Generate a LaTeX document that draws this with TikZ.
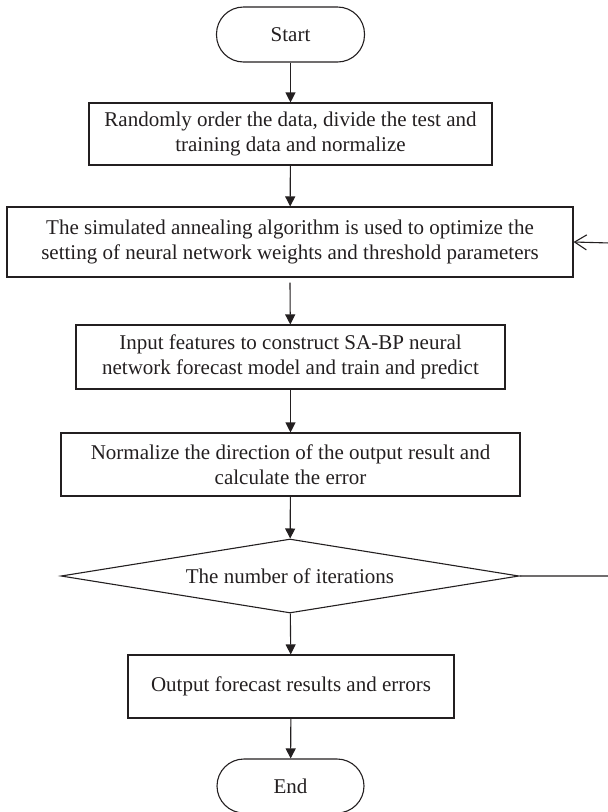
\documentclass[tikz,border=0pt]{standalone}
\usepackage{fontspec}
\setmainfont{Liberation Serif}
\usetikzlibrary{shapes.geometric,arrows.meta}
\definecolor{ink}{HTML}{231F20}
\begin{document}
\begin{tikzpicture}[x=1pt,y=-1pt,
  every node/.style={text=ink,font=\fontsize{21}{25.5}\selectfont},
  box/.style={draw=ink,line width=1.1pt,rectangle,inner sep=0pt,align=center},
  term/.style={draw=ink,line width=1.1pt,rectangle,rounded corners=27pt,inner sep=0pt,align=center},
  decide/.style={draw=ink,line width=1.1pt,diamond,inner sep=0pt,align=center,shape aspect=6.19},
  flow/.style={draw=ink,line width=1.1pt,-{Triangle[length=10pt,width=10pt]}},
  back/.style={draw=ink,line width=1.1pt,-{Straight Barb[length=12pt,width=15pt]}}]
\useasboundingbox (0,0) rectangle (608,812);
\node[term,minimum width=148pt,minimum height=55pt] (start) at (290.5,34.5) {Start};
\node[box,minimum width=403pt,minimum height=62pt] (b1) at (290.5,134) {Randomly order the data, divide the test and\\training data and normalize};
\node[box,minimum width=566pt,minimum height=70pt] (b2) at (290,242) {The simulated annealing algorithm is used to optimize the\\setting of neural network weights and threshold parameters};
\node[box,minimum width=429pt,minimum height=64pt] (b3) at (290.5,357) {Input features to construct SA-BP neural\\network forecast model and train and predict};
\node[box,minimum width=459pt,minimum height=63pt] (b4) at (290.5,464.5) {Normalize the direction of the output result and\\calculate the error};
\node[decide,minimum width=458pt,minimum height=74pt] (d) at (290,576) {The number of iterations};
\node[box,minimum width=326pt,minimum height=63pt] (b5) at (291,686.5) {Output forecast results and errors};
\node[term,minimum width=147pt,minimum height=54pt] (end) at (290.5,786) {End};
\coordinate (r1) at (610,576);
\coordinate (r2) at (610,243);
\draw[flow] (start) -- (b1);
\draw[flow] (b1) -- (b2);
\draw[flow] ([yshift=-5pt]b2.south) -- (b3);
\draw[flow] (b3) -- (b4);
\draw[flow] (b4) -- (d);
\draw[flow] (d) -- (b5);
\draw[flow] (b5) -- (end);
\draw[back] (d.east) -- (r1) -- (r2) -- (b2.east);
\end{tikzpicture}
\end{document}
